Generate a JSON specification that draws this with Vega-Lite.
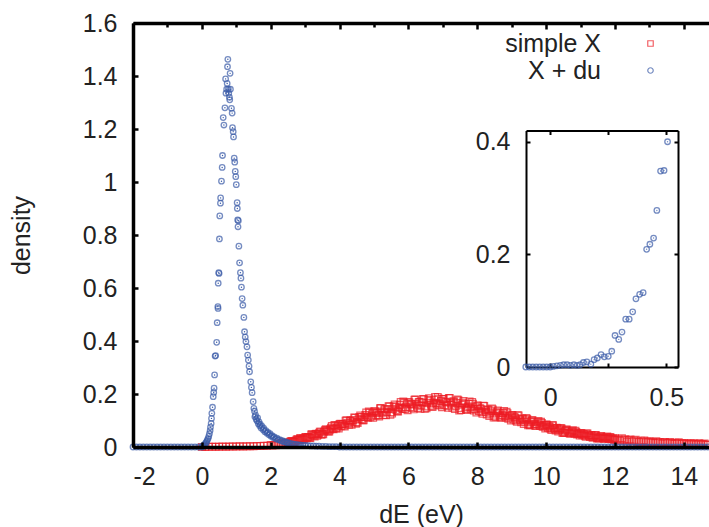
{
"$schema": "https://vega.github.io/schema/vega-lite/v6.json",
"width": 576, "height": 424,
"autosize": {"type": "none"},
"padding": {"left": 133, "top": 23, "right": 0, "bottom": 80},
"config": {
 "font": "Liberation Sans",
 "view": {"stroke": null},
 "axis": {"labelFontSize": 25, "titleFontSize": 25, "labelColor": "#222", "titleColor": "#222", "titleFontWeight": "normal", "domainColor": "#000", "tickColor": "#000", "grid": false, "labelFont": "Liberation Sans", "titleFont": "Liberation Sans"},
 "legend": {"labelFont": "Liberation Sans"}
},
"datasets": {
"red": [
{"x":0.0,"y":0},{"x":0.1,"y":0},{"x":0.2,"y":0.001},{"x":0.3,"y":0.001},{"x":0.4,"y":0.001},{"x":0.5,"y":0.001},{"x":0.6,"y":0.002},{"x":0.7,"y":0.001},{"x":0.8,"y":0.002},{"x":0.9,"y":0.002},{"x":1.0,"y":0.002},{"x":1.1,"y":0.003},{"x":1.2,"y":0.002},{"x":1.3,"y":0.003},{"x":1.4,"y":0.003},{"x":1.5,"y":0.003},{"x":1.6,"y":0.004},{"x":1.7,"y":0.004},{"x":1.8,"y":0.005},{"x":1.9,"y":0.005},
{"x":2.00,"y":0.008},{"x":2.05,"y":0.006},{"x":2.10,"y":0.008},{"x":2.15,"y":0.007},{"x":2.20,"y":0.013},{"x":2.25,"y":0.010},{"x":2.30,"y":0.013},{"x":2.35,"y":0.010},{"x":2.40,"y":0.015},{"x":2.45,"y":0.017},
{"x":2.50,"y":0.014},{"x":2.55,"y":0.018},{"x":2.60,"y":0.023},{"x":2.65,"y":0.020},{"x":2.70,"y":0.020},{"x":2.75,"y":0.027},{"x":2.80,"y":0.026},{"x":2.85,"y":0.033},{"x":2.90,"y":0.027},{"x":2.95,"y":0.033},
{"x":3.00,"y":0.037},{"x":3.05,"y":0.033},{"x":3.10,"y":0.038},{"x":3.15,"y":0.034},{"x":3.20,"y":0.048},{"x":3.25,"y":0.043},{"x":3.30,"y":0.049},{"x":3.35,"y":0.042},{"x":3.40,"y":0.052},{"x":3.45,"y":0.058},
{"x":3.50,"y":0.050},{"x":3.55,"y":0.058},{"x":3.60,"y":0.067},{"x":3.65,"y":0.060},{"x":3.70,"y":0.058},{"x":3.75,"y":0.073},{"x":3.80,"y":0.069},{"x":3.85,"y":0.083},{"x":3.90,"y":0.070},{"x":3.95,"y":0.081},
{"x":4.00,"y":0.087},{"x":4.05,"y":0.078},{"x":4.10,"y":0.086},{"x":4.15,"y":0.077},{"x":4.20,"y":0.101},{"x":4.25,"y":0.089},{"x":4.30,"y":0.099},{"x":4.35,"y":0.084},{"x":4.40,"y":0.101},{"x":4.45,"y":0.110},
{"x":4.50,"y":0.094},{"x":4.55,"y":0.105},{"x":4.60,"y":0.119},{"x":4.65,"y":0.105},{"x":4.70,"y":0.101},{"x":4.75,"y":0.121},{"x":4.80,"y":0.114},{"x":4.85,"y":0.134},{"x":4.90,"y":0.112},{"x":4.95,"y":0.127},
{"x":5.00,"y":0.134},{"x":5.05,"y":0.119},{"x":5.10,"y":0.129},{"x":5.15,"y":0.115},{"x":5.20,"y":0.147},{"x":5.25,"y":0.129},{"x":5.30,"y":0.142},{"x":5.35,"y":0.120},{"x":5.40,"y":0.142},{"x":5.45,"y":0.153},
{"x":5.50,"y":0.131},{"x":5.55,"y":0.143},{"x":5.60,"y":0.160},{"x":5.65,"y":0.140},{"x":5.70,"y":0.134},{"x":5.75,"y":0.159},{"x":5.80,"y":0.148},{"x":5.85,"y":0.172},{"x":5.90,"y":0.143},{"x":5.95,"y":0.161},
{"x":6.00,"y":0.169},{"x":6.05,"y":0.149},{"x":6.10,"y":0.160},{"x":6.15,"y":0.142},{"x":6.20,"y":0.179},{"x":6.25,"y":0.157},{"x":6.30,"y":0.170},{"x":6.35,"y":0.144},{"x":6.40,"y":0.168},{"x":6.45,"y":0.180},
{"x":6.50,"y":0.153},{"x":6.55,"y":0.166},{"x":6.60,"y":0.184},{"x":6.65,"y":0.160},{"x":6.70,"y":0.151},{"x":6.75,"y":0.178},{"x":6.80,"y":0.165},{"x":6.85,"y":0.189},{"x":6.90,"y":0.157},{"x":6.95,"y":0.174},
{"x":7.00,"y":0.181},{"x":7.05,"y":0.158},{"x":7.10,"y":0.169},{"x":7.15,"y":0.148},{"x":7.20,"y":0.185},{"x":7.25,"y":0.160},{"x":7.30,"y":0.172},{"x":7.35,"y":0.143},{"x":7.40,"y":0.166},{"x":7.45,"y":0.176},
{"x":7.50,"y":0.147},{"x":7.55,"y":0.159},{"x":7.60,"y":0.174},{"x":7.65,"y":0.149},{"x":7.70,"y":0.140},{"x":7.75,"y":0.163},{"x":7.80,"y":0.149},{"x":7.85,"y":0.170},{"x":7.90,"y":0.138},{"x":7.95,"y":0.153},
{"x":8.00,"y":0.157},{"x":8.05,"y":0.136},{"x":8.10,"y":0.144},{"x":8.15,"y":0.125},{"x":8.20,"y":0.155},{"x":8.25,"y":0.133},{"x":8.30,"y":0.142},{"x":8.35,"y":0.117},{"x":8.40,"y":0.135},{"x":8.45,"y":0.142},
{"x":8.50,"y":0.118},{"x":8.55,"y":0.126},{"x":8.60,"y":0.138},{"x":8.65,"y":0.118},{"x":8.70,"y":0.110},{"x":8.75,"y":0.128},{"x":8.80,"y":0.117},{"x":8.85,"y":0.133},{"x":8.90,"y":0.107},{"x":8.95,"y":0.118},
{"x":9.00,"y":0.121},{"x":9.05,"y":0.104},{"x":9.10,"y":0.110},{"x":9.15,"y":0.095},{"x":9.20,"y":0.119},{"x":9.25,"y":0.101},{"x":9.30,"y":0.108},{"x":9.35,"y":0.087},{"x":9.40,"y":0.101},{"x":9.45,"y":0.106},
{"x":9.50,"y":0.087},{"x":9.55,"y":0.093},{"x":9.60,"y":0.102},{"x":9.65,"y":0.086},{"x":9.70,"y":0.079},{"x":9.75,"y":0.093},{"x":9.80,"y":0.084},{"x":9.85,"y":0.095},{"x":9.90,"y":0.076},{"x":9.95,"y":0.083},
{"x":10.00,"y":0.085},{"x":10.05,"y":0.072},{"x":10.10,"y":0.076},{"x":10.15,"y":0.064},{"x":10.20,"y":0.082},{"x":10.25,"y":0.068},{"x":10.30,"y":0.073},{"x":10.35,"y":0.058},{"x":10.40,"y":0.067},{"x":10.45,"y":0.070},
{"x":10.50,"y":0.056},{"x":10.55,"y":0.061},{"x":10.60,"y":0.066},{"x":10.65,"y":0.055},{"x":10.70,"y":0.050},{"x":10.75,"y":0.059},{"x":10.80,"y":0.053},{"x":10.85,"y":0.061},{"x":10.90,"y":0.047},{"x":10.95,"y":0.052},
{"x":11.00,"y":0.053},{"x":11.05,"y":0.044},{"x":11.10,"y":0.047},{"x":11.15,"y":0.039},{"x":11.20,"y":0.051},{"x":11.25,"y":0.042},{"x":11.30,"y":0.045},{"x":11.35,"y":0.035},{"x":11.40,"y":0.041},{"x":11.45,"y":0.044},
{"x":11.50,"y":0.034},{"x":11.55,"y":0.037},{"x":11.60,"y":0.042},{"x":11.65,"y":0.034},{"x":11.70,"y":0.031},{"x":11.75,"y":0.037},{"x":11.80,"y":0.033},{"x":11.85,"y":0.038},{"x":11.90,"y":0.029},{"x":11.95,"y":0.033},
{"x":12.00,"y":0.033},{"x":12.05,"y":0.027},{"x":12.10,"y":0.029},{"x":12.15,"y":0.024},{"x":12.20,"y":0.033},{"x":12.25,"y":0.026},{"x":12.30,"y":0.029},{"x":12.35,"y":0.021},{"x":12.40,"y":0.026},{"x":12.45,"y":0.028},
{"x":12.50,"y":0.021},{"x":12.55,"y":0.024},{"x":12.60,"y":0.027},{"x":12.65,"y":0.021},{"x":12.70,"y":0.019},{"x":12.75,"y":0.024},{"x":12.80,"y":0.021},{"x":12.85,"y":0.025},{"x":12.90,"y":0.018},{"x":12.95,"y":0.021},
{"x":13.00,"y":0.022},{"x":13.05,"y":0.017},{"x":13.10,"y":0.019},{"x":13.15,"y":0.015},{"x":13.20,"y":0.022},{"x":13.25,"y":0.017},{"x":13.30,"y":0.019},{"x":13.35,"y":0.013},{"x":13.40,"y":0.017},{"x":13.45,"y":0.019},
{"x":13.50,"y":0.014},{"x":13.55,"y":0.016},{"x":13.60,"y":0.019},{"x":13.65,"y":0.014},{"x":13.70,"y":0.012},{"x":13.75,"y":0.016},{"x":13.80,"y":0.014},{"x":13.85,"y":0.018},{"x":13.90,"y":0.012},{"x":13.95,"y":0.014},
{"x":14.00,"y":0.015},{"x":14.05,"y":0.011},{"x":14.10,"y":0.013},{"x":14.15,"y":0.010},{"x":14.20,"y":0.015},{"x":14.25,"y":0.011},{"x":14.30,"y":0.013},{"x":14.35,"y":0.009},{"x":14.40,"y":0.012},{"x":14.45,"y":0.014},
{"x":14.50,"y":0.009},{"x":14.55,"y":0.011},{"x":14.60,"y":0.013},{"x":14.65,"y":0.009},{"x":14.70,"y":0.008},
{"x":2.525,"y":0.013},{"x":2.575,"y":0.021},{"x":2.625,"y":0.022},{"x":2.675,"y":0.019},{"x":2.725,"y":0.024},{"x":2.775,"y":0.030},{"x":2.825,"y":0.025},{"x":2.875,"y":0.033},{"x":2.925,"y":0.029},{"x":2.975,"y":0.028},
{"x":3.025,"y":0.038},{"x":3.075,"y":0.038},{"x":3.125,"y":0.035},{"x":3.175,"y":0.047},{"x":3.225,"y":0.044},{"x":3.275,"y":0.040},{"x":3.325,"y":0.050},{"x":3.375,"y":0.047},{"x":3.425,"y":0.058},{"x":3.475,"y":0.046},
{"x":3.525,"y":0.048},{"x":3.575,"y":0.063},{"x":3.625,"y":0.064},{"x":3.675,"y":0.058},{"x":3.725,"y":0.066},{"x":3.775,"y":0.079},{"x":3.825,"y":0.067},{"x":3.875,"y":0.081},{"x":3.925,"y":0.074},{"x":3.975,"y":0.070},
{"x":4.025,"y":0.088},{"x":4.075,"y":0.086},{"x":4.125,"y":0.080},{"x":4.175,"y":0.099},{"x":4.225,"y":0.092},{"x":4.275,"y":0.084},{"x":4.325,"y":0.100},{"x":4.375,"y":0.093},{"x":4.425,"y":0.111},{"x":4.475,"y":0.088},
{"x":4.525,"y":0.091},{"x":4.575,"y":0.113},{"x":4.625,"y":0.113},{"x":4.675,"y":0.101},{"x":4.725,"y":0.112},{"x":4.775,"y":0.130},{"x":4.825,"y":0.110},{"x":4.875,"y":0.130},{"x":4.925,"y":0.118},{"x":4.975,"y":0.110},
{"x":5.025,"y":0.135},{"x":5.075,"y":0.130},{"x":5.125,"y":0.120},{"x":5.175,"y":0.146},{"x":5.225,"y":0.134},{"x":5.275,"y":0.121},{"x":5.325,"y":0.143},{"x":5.375,"y":0.132},{"x":5.425,"y":0.154},{"x":5.475,"y":0.122},
{"x":5.525,"y":0.126},{"x":5.575,"y":0.154},{"x":5.625,"y":0.151},{"x":5.675,"y":0.135},{"x":5.725,"y":0.148},{"x":5.775,"y":0.170},{"x":5.825,"y":0.143},{"x":5.875,"y":0.167},{"x":5.925,"y":0.150},{"x":5.975,"y":0.139},
{"x":6.025,"y":0.169},{"x":6.075,"y":0.162},{"x":6.125,"y":0.148},{"x":6.175,"y":0.178},{"x":6.225,"y":0.163},{"x":6.275,"y":0.147},{"x":6.325,"y":0.171},{"x":6.375,"y":0.157},{"x":6.425,"y":0.181},{"x":6.475,"y":0.144},
{"x":6.525,"y":0.146},{"x":6.575,"y":0.177},{"x":6.625,"y":0.173},{"x":6.675,"y":0.154},{"x":6.725,"y":0.167},{"x":6.775,"y":0.189},{"x":6.825,"y":0.159},{"x":6.875,"y":0.183},{"x":6.925,"y":0.163},{"x":6.975,"y":0.150},
{"x":7.025,"y":0.181},{"x":7.075,"y":0.171},{"x":7.125,"y":0.155},{"x":7.175,"y":0.185},{"x":7.225,"y":0.167},{"x":7.275,"y":0.148},{"x":7.325,"y":0.172},{"x":7.375,"y":0.155},{"x":7.425,"y":0.179},{"x":7.475,"y":0.138},
{"x":7.525,"y":0.140},{"x":7.575,"y":0.168},{"x":7.625,"y":0.163},{"x":7.675,"y":0.143},{"x":7.725,"y":0.153},{"x":7.775,"y":0.172},{"x":7.825,"y":0.142},{"x":7.875,"y":0.163},{"x":7.925,"y":0.143},{"x":7.975,"y":0.130},
{"x":8.025,"y":0.156},{"x":8.075,"y":0.146},{"x":8.125,"y":0.131},{"x":8.175,"y":0.156},{"x":8.225,"y":0.139},{"x":8.275,"y":0.123},{"x":8.325,"y":0.141},{"x":8.375,"y":0.127},{"x":8.425,"y":0.145},{"x":8.475,"y":0.111},
{"x":8.525,"y":0.112},{"x":8.575,"y":0.134},{"x":8.625,"y":0.129},{"x":8.675,"y":0.112},{"x":8.725,"y":0.121},{"x":8.775,"y":0.136},{"x":8.825,"y":0.111},{"x":8.875,"y":0.127},{"x":8.925,"y":0.111},{"x":8.975,"y":0.100},
{"x":9.025,"y":0.120},{"x":9.075,"y":0.113},{"x":9.125,"y":0.100},{"x":9.175,"y":0.120},{"x":9.225,"y":0.106},{"x":9.275,"y":0.093},{"x":9.325,"y":0.107},{"x":9.375,"y":0.095},{"x":9.425,"y":0.109},{"x":9.475,"y":0.082},
{"x":9.525,"y":0.082},{"x":9.575,"y":0.099},{"x":9.625,"y":0.095},{"x":9.675,"y":0.081},{"x":9.725,"y":0.087},{"x":9.775,"y":0.098},{"x":9.825,"y":0.079},{"x":9.875,"y":0.091},{"x":9.925,"y":0.078},{"x":9.975,"y":0.070},
{"x":10.025,"y":0.084},{"x":10.075,"y":0.078},{"x":10.125,"y":0.069},{"x":10.175,"y":0.082},{"x":10.225,"y":0.072},{"x":10.275,"y":0.062},{"x":10.325,"y":0.072},{"x":10.375,"y":0.063},{"x":10.425,"y":0.072},{"x":10.475,"y":0.053},
{"x":10.525,"y":0.053},{"x":10.575,"y":0.065},{"x":10.625,"y":0.061},{"x":10.675,"y":0.052},{"x":10.725,"y":0.056},{"x":10.775,"y":0.063},{"x":10.825,"y":0.050},{"x":10.875,"y":0.057},{"x":10.925,"y":0.049},{"x":10.975,"y":0.043},
{"x":11.025,"y":0.052},{"x":11.075,"y":0.048},{"x":11.125,"y":0.042},{"x":11.175,"y":0.051},{"x":11.225,"y":0.044},{"x":11.275,"y":0.038},{"x":11.325,"y":0.044},{"x":11.375,"y":0.038},{"x":11.425,"y":0.045},{"x":11.475,"y":0.032},
{"x":11.525,"y":0.032},{"x":11.575,"y":0.040},{"x":11.625,"y":0.038},{"x":11.675,"y":0.031},{"x":11.725,"y":0.034},{"x":11.775,"y":0.040},{"x":11.825,"y":0.030},{"x":11.875,"y":0.036},{"x":11.925,"y":0.030},{"x":11.975,"y":0.026}
],
"blue": [
{"x":-2.0,"y":0},{"x":-1.9,"y":0},{"x":-1.8,"y":0},{"x":-1.7,"y":0},{"x":-1.6,"y":0},{"x":-1.5,"y":0},{"x":-1.4,"y":0},{"x":-1.3,"y":0},{"x":-1.2,"y":0},{"x":-1.1,"y":0},{"x":-1.0,"y":0},{"x":-0.9,"y":0},{"x":-0.8,"y":0},{"x":-0.7,"y":0},{"x":-0.6,"y":0},{"x":-0.5,"y":0},{"x":-0.4,"y":0},{"x":-0.3,"y":0},{"x":-0.2,"y":0},{"x":-0.1,"y":0},
{"x":0.00,"y":0.000},{"x":0.02,"y":0.002},{"x":0.04,"y":0.004},{"x":0.06,"y":0.006},{"x":0.08,"y":0.009},{"x":0.10,"y":0.012},{"x":0.12,"y":0.016},{"x":0.14,"y":0.020},{"x":0.16,"y":0.026},{"x":0.18,"y":0.032},{"x":0.20,"y":0.040},{"x":0.22,"y":0.050},{"x":0.24,"y":0.062},{"x":0.25,"y":0.075},{"x":0.27,"y":0.089},{"x":0.28,"y":0.108},{"x":0.29,"y":0.127},{"x":0.31,"y":0.150},{"x":0.33,"y":0.190},{"x":0.345,"y":0.206},{"x":0.355,"y":0.222},{"x":0.37,"y":0.272},{"x":0.385,"y":0.343},{"x":0.40,"y":0.345},{"x":0.43,"y":0.395},{"x":0.445,"y":0.469},{"x":0.465,"y":0.530},{"x":0.47,"y":0.523},{"x":0.475,"y":0.618},{"x":0.49,"y":0.658},{"x":0.50,"y":0.655},{"x":0.51,"y":0.785},{"x":0.52,"y":0.872},{"x":0.54,"y":0.920},{"x":0.545,"y":0.940},{"x":0.57,"y":1.003},{"x":0.59,"y":1.055},{"x":0.60,"y":1.100},{"x":0.62,"y":1.243},{"x":0.64,"y":1.215},{"x":0.67,"y":1.280},{"x":0.69,"y":1.389},{"x":0.70,"y":1.335},{"x":0.72,"y":1.350},{"x":0.735,"y":1.372},{"x":0.745,"y":1.435},{"x":0.755,"y":1.463},{"x":0.77,"y":1.350},{"x":0.78,"y":1.335},{"x":0.80,"y":1.320},{"x":0.81,"y":1.310},{"x":0.82,"y":1.410},{"x":0.83,"y":1.350},{"x":0.86,"y":1.278},{"x":0.88,"y":1.260},{"x":0.89,"y":1.205},{"x":0.91,"y":1.190},{"x":0.92,"y":1.170},{"x":0.94,"y":1.090},{"x":0.955,"y":1.075},{"x":0.97,"y":1.040},{"x":0.985,"y":1.020},{"x":1.00,"y":0.990},{"x":1.025,"y":0.922},{"x":1.03,"y":0.900},{"x":1.04,"y":0.857},{"x":1.05,"y":0.831},{"x":1.06,"y":0.854},{"x":1.075,"y":0.758},{"x":1.095,"y":0.695},{"x":1.12,"y":0.658},{"x":1.135,"y":0.637},{"x":1.15,"y":0.603},{"x":1.17,"y":0.560},{"x":1.19,"y":0.535},{"x":1.22,"y":0.489},{"x":1.24,"y":0.435},{"x":1.26,"y":0.415},{"x":1.28,"y":0.398},{"x":1.31,"y":0.378},{"x":1.33,"y":0.347},{"x":1.35,"y":0.328},{"x":1.37,"y":0.305},{"x":1.385,"y":0.284},{"x":1.42,"y":0.246},{"x":1.44,"y":0.225},{"x":1.46,"y":0.205},{"x":1.49,"y":0.171},{"x":1.51,"y":0.146},{"x":1.53,"y":0.135},{"x":1.54,"y":0.114},{"x":1.56,"y":0.120},{"x":1.58,"y":0.105},{"x":1.60,"y":0.098},{"x":1.62,"y":0.110},{"x":1.64,"y":0.088},{"x":1.66,"y":0.095},{"x":1.68,"y":0.080},{"x":1.70,"y":0.085},{"x":1.72,"y":0.072},{"x":1.75,"y":0.078},{"x":1.78,"y":0.065},{"x":1.80,"y":0.070},{"x":1.83,"y":0.058},{"x":1.86,"y":0.062},{"x":1.89,"y":0.052},{"x":1.92,"y":0.055},{"x":1.95,"y":0.046},{"x":1.98,"y":0.050},{"x":2.01,"y":0.041},{"x":2.04,"y":0.043},{"x":2.07,"y":0.036},{"x":2.10,"y":0.038},{"x":2.14,"y":0.031},{"x":2.18,"y":0.033},{"x":2.22,"y":0.027},{"x":2.26,"y":0.028},{"x":2.30,"y":0.023},{"x":2.34,"y":0.024},{"x":2.38,"y":0.019},{"x":2.42,"y":0.020},{"x":2.46,"y":0.016},{"x":2.50,"y":0.016},{"x":2.55,"y":0.013},{"x":2.60,"y":0.013},{"x":2.65,"y":0.011},{"x":2.70,"y":0.010},{"x":2.76,"y":0.009},{"x":2.82,"y":0.008},{"x":2.88,"y":0.007},{"x":2.94,"y":0.006},{"x":3.00,"y":0.006},{"x":3.08,"y":0.005},{"x":3.16,"y":0.004},{"x":3.24,"y":0.004},{"x":3.32,"y":0.003},{"x":3.40,"y":0.003},{"x":3.50,"y":0.002},{"x":3.60,"y":0.002},{"x":3.70,"y":0.001},{"x":3.80,"y":0.001},{"x":3.90,"y":0.001},
{"x":4.0,"y":0},{"x":4.1,"y":0},{"x":4.2,"y":0},{"x":4.3,"y":0},{"x":4.4,"y":0},{"x":4.5,"y":0},{"x":4.6,"y":0},{"x":4.7,"y":0},{"x":4.8,"y":0},{"x":4.9,"y":0},{"x":5.0,"y":0},{"x":5.1,"y":0},{"x":5.2,"y":0},{"x":5.3,"y":0},{"x":5.4,"y":0},{"x":5.5,"y":0},{"x":5.6,"y":0},{"x":5.7,"y":0},{"x":5.8,"y":0},{"x":5.9,"y":0},{"x":6.0,"y":0},{"x":6.1,"y":0},{"x":6.2,"y":0},{"x":6.3,"y":0},{"x":6.4,"y":0},{"x":6.5,"y":0},{"x":6.6,"y":0},{"x":6.7,"y":0},{"x":6.8,"y":0},{"x":6.9,"y":0},{"x":7.0,"y":0},{"x":7.1,"y":0},{"x":7.2,"y":0},{"x":7.3,"y":0},{"x":7.4,"y":0},{"x":7.5,"y":0},{"x":7.6,"y":0},{"x":7.7,"y":0},{"x":7.8,"y":0},{"x":7.9,"y":0},{"x":8.0,"y":0},{"x":8.1,"y":0},{"x":8.2,"y":0},{"x":8.3,"y":0},{"x":8.4,"y":0},{"x":8.5,"y":0},{"x":8.6,"y":0},{"x":8.7,"y":0},{"x":8.8,"y":0},{"x":8.9,"y":0},{"x":9.0,"y":0},{"x":9.1,"y":0},{"x":9.2,"y":0},{"x":9.3,"y":0},{"x":9.4,"y":0},{"x":9.5,"y":0},{"x":9.6,"y":0},{"x":9.7,"y":0},{"x":9.8,"y":0},{"x":9.9,"y":0},{"x":10.0,"y":0},{"x":10.1,"y":0},{"x":10.2,"y":0},{"x":10.3,"y":0},{"x":10.4,"y":0},{"x":10.5,"y":0},{"x":10.6,"y":0},{"x":10.7,"y":0},{"x":10.8,"y":0},{"x":10.9,"y":0},{"x":11.0,"y":0},{"x":11.1,"y":0},{"x":11.2,"y":0},{"x":11.3,"y":0},{"x":11.4,"y":0},{"x":11.5,"y":0},{"x":11.6,"y":0},{"x":11.7,"y":0},{"x":11.8,"y":0},{"x":11.9,"y":0},{"x":12.0,"y":0},{"x":12.1,"y":0},{"x":12.2,"y":0},{"x":12.3,"y":0},{"x":12.4,"y":0},{"x":12.5,"y":0},{"x":12.6,"y":0},{"x":12.7,"y":0},{"x":12.8,"y":0},{"x":12.9,"y":0},{"x":13.0,"y":0},{"x":13.1,"y":0},{"x":13.2,"y":0},{"x":13.3,"y":0},{"x":13.4,"y":0},{"x":13.5,"y":0},{"x":13.6,"y":0},{"x":13.7,"y":0},{"x":13.8,"y":0},{"x":13.9,"y":0},{"x":14.0,"y":0},{"x":14.1,"y":0},{"x":14.2,"y":0},{"x":14.3,"y":0},{"x":14.4,"y":0},{"x":14.5,"y":0},{"x":14.6,"y":0},{"x":14.7,"y":0}
],
"inset": [
{"x":-0.105,"y":0},{"x":-0.09,"y":0},{"x":-0.075,"y":0},{"x":-0.06,"y":0},{"x":-0.045,"y":0},{"x":-0.03,"y":0},{"x":-0.015,"y":0},{"x":0.0,"y":0},{"x":0.014,"y":0.001},{"x":0.029,"y":0.002},{"x":0.044,"y":0.003},{"x":0.058,"y":0.004},{"x":0.073,"y":0.004},{"x":0.087,"y":0.003},{"x":0.102,"y":0.004},{"x":0.116,"y":0.003},{"x":0.129,"y":0.004},{"x":0.143,"y":0.008},{"x":0.158,"y":0.009},{"x":0.175,"y":0.005},{"x":0.189,"y":0.013},{"x":0.203,"y":0.016},{"x":0.219,"y":0.022},{"x":0.233,"y":0.018},{"x":0.25,"y":0.019},{"x":0.265,"y":0.028},{"x":0.279,"y":0.056},{"x":0.295,"y":0.049},{"x":0.309,"y":0.062},{"x":0.325,"y":0.085},{"x":0.34,"y":0.085},{"x":0.355,"y":0.098},{"x":0.369,"y":0.121},{"x":0.385,"y":0.129},{"x":0.40,"y":0.132},{"x":0.415,"y":0.209},{"x":0.429,"y":0.218},{"x":0.445,"y":0.229},{"x":0.459,"y":0.278},{"x":0.475,"y":0.348},{"x":0.49,"y":0.349},{"x":0.505,"y":0.40}
]
},
"layer": [
 {
  "layer": [
   {
    "data": {"name": "red"},
    "mark": {"type": "point", "filled": false, "size": 46, "strokeWidth": 1.2},
    "encoding": {
     "x": {"field": "x", "type": "quantitative", "scale": {"domain": [-2, 14.73], "nice": false, "zero": false},
       "axis": {"orient": "bottom", "values": [-2,0,2,4,6,8,10,12,14], "labelExpr": "'' + datum.value", "tickSize": -5, "tickWidth": 2.5, "domainWidth": 3.5, "labelPadding": 22, "title": "dE (eV)", "titlePadding": 13, "zindex": 1}},
     "y": {"field": "y", "type": "quantitative", "scale": {"domain": [0, 1.6], "nice": false},
       "axis": {"orient": "left", "values": [0,0.2,0.4,0.6,0.8,1,1.2,1.4,1.6], "labelExpr": "'' + datum.value", "tickSize": -5, "tickWidth": 2.5, "domainWidth": 3.5, "labelPadding": 21, "title": "density", "titlePadding": 48, "zindex": 1}},
     "color": {"datum": "simple X", "scale": {"domain": ["simple X", "X + du"], "range": ["#ed1c24", "#3a5ba8"]},
       "legend": {"title": null, "orient": "none", "legendX": 505, "legendY": 8, "labelAlign": "right", "labelOffset": -62, "labelFontSize": 25, "labelColor": "#222", "symbolSize": 30, "symbolStrokeWidth": 1.2, "rowPadding": 1, "padding": 0, "labelLimit": 300}},
     "shape": {"datum": "simple X", "scale": {"domain": ["simple X", "X + du"], "range": ["square", "circle"]}}
    }
   },
   {
    "data": {"name": "blue"},
    "mark": {"type": "point", "filled": false, "size": 30, "strokeWidth": 1.3},
    "encoding": {
     "x": {"field": "x", "type": "quantitative"},
     "y": {"field": "y", "type": "quantitative"},
     "color": {"datum": "X + du"},
     "shape": {"datum": "X + du"}
    }
   },
   {
    "data": {"name": "blue"},
    "mark": {"type": "point", "filled": true, "size": 2, "shape": "circle", "color": "#3a5ba8", "opacity": 1},
    "encoding": {
     "x": {"field": "x", "type": "quantitative"},
     "y": {"field": "y", "type": "quantitative"}
    }
   }
  ]
 },
 {
  "data": {"name": "inset"},
  "mark": {"type": "point", "opacity": 0},
  "encoding": {
   "x": {"field": "x", "type": "quantitative", "scale": {"domain": [-2, 14.73], "nice": false, "zero": false},
     "axis": {"orient": "top", "values": [-2,-1,0,1,2,3,4,5,6,7,8,9,10,11,12,13,14], "labels": false, "title": null, "tickSize": {"condition": {"test": "datum.value % 2 === 0", "value": -6}, "value": -4}, "tickWidth": 2.5, "domainWidth": 3.5, "zindex": 1}},
   "y": {"field": "y", "type": "quantitative", "scale": {"domain": [0, 1.6], "nice": false}, "axis": null}
  }
 },
 {
  "layer": [
   {
    "data": {"name": "inset"},
    "mark": {"type": "point", "filled": false, "size": 30, "strokeWidth": 1.3, "color": "#3a5ba8", "shape": "circle"},
    "encoding": {
     "x": {"field": "x", "type": "quantitative", "scale": {"domain": [-0.104, 0.55], "range": [393, 545], "nice": false, "zero": false},
       "axis": {"orient": "bottom", "offset": -80, "values": [0, 0.25, 0.5], "labelExpr": "datum.value == 0.25 ? '' : '' + datum.value", "tickSize": -4, "tickWidth": 2, "domainWidth": 2, "labelPadding": 22, "title": null}},
     "y": {"field": "y", "type": "quantitative", "scale": {"domain": [0, 0.42], "range": [344, 107.5], "nice": false},
       "axis": {"orient": "left", "offset": -393, "values": [0, 0.2, 0.4], "labelExpr": "'' + datum.value", "tickSize": -4, "tickWidth": 2, "domainWidth": 2, "labelPadding": 20, "title": null}}
    }
   },
   {
    "data": {"name": "inset"},
    "mark": {"type": "point", "filled": true, "size": 2, "shape": "circle", "color": "#3a5ba8"},
    "encoding": {
     "x": {"field": "x", "type": "quantitative"},
     "y": {"field": "y", "type": "quantitative"}
    }
   }
  ]
 },
 {
  "data": {"name": "inset"},
  "mark": {"type": "point", "opacity": 0},
  "encoding": {
   "x": {"field": "x", "type": "quantitative", "scale": {"domain": [-0.104, 0.55], "range": [393, 545], "nice": false, "zero": false},
     "axis": {"orient": "top", "offset": -107.5, "values": [0, 0.25, 0.5], "labels": false, "tickSize": -4, "tickWidth": 2, "domainWidth": 2, "title": null}},
   "y": {"field": "y", "type": "quantitative", "scale": {"domain": [0, 0.42], "range": [344, 107.5], "nice": false},
     "axis": {"orient": "right", "offset": -31, "values": [0, 0.2, 0.4], "labels": false, "tickSize": -4, "tickWidth": 2, "domainWidth": 2, "title": null}}
  }
 }
],
"resolve": {"scale": {"x": "independent", "y": "independent"}, "axis": {"x": "independent", "y": "independent"}}
}
